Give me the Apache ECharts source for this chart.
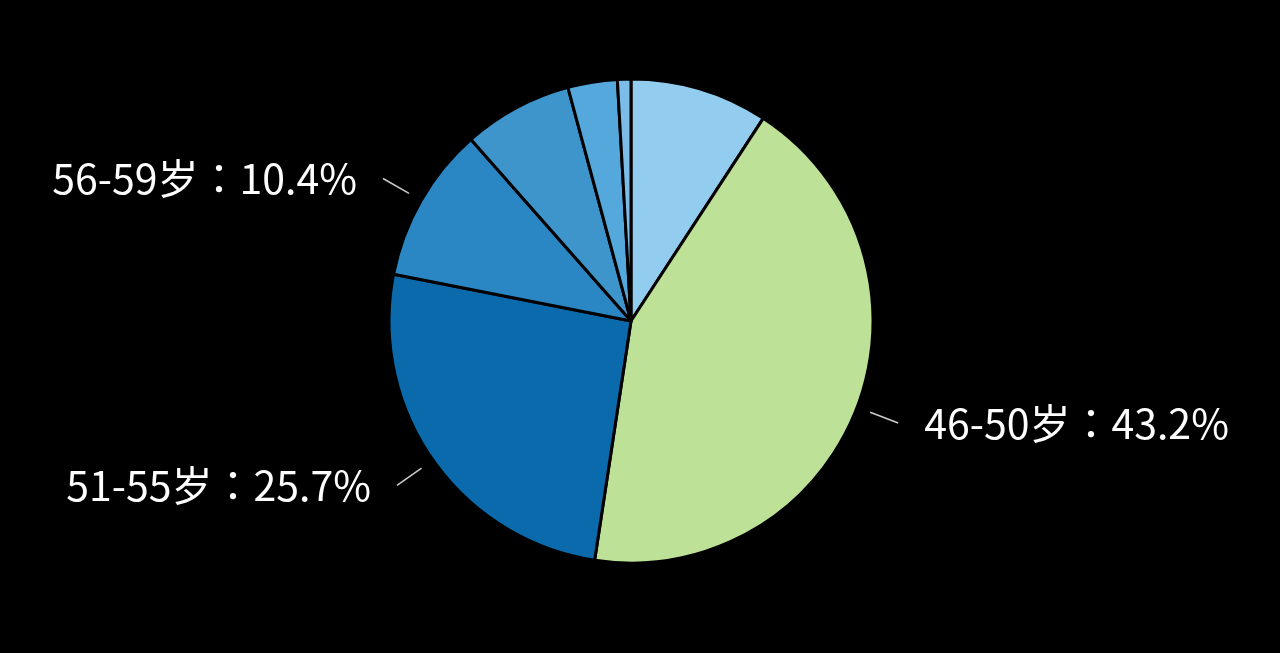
<!DOCTYPE html>
<html>
<head>
<meta charset="utf-8">
<script src="https://cdn.jsdelivr.net/npm/echarts@6/dist/echarts.min.js"></script>
<style>
html,body{margin:0;padding:0;background:#000;}
#c{width:1280px;height:653px;}
</style>
</head>
<body>
<div id="c"></div>
<script>
var categories = ['45岁及以下', '46-50岁', '51-55岁', '56-59岁', '60-62岁', '63-65岁', '65岁以上'];
var values = [9.2, 43.2, 25.7, 10.4, 7.3, 3.3, 0.9];
var colors = ['#92CDF0', '#BDE196', '#0A6AAC', '#2A87C4', '#3D95CC', '#55A8DC', '#7BBDE8'];
var labeled = ['46-50岁', '51-55岁', '56-59岁'];

var chart = echarts.init(document.getElementById('c'));

var sliceData = categories.map(function (n, i) {
  return { name: n, value: values[i], itemStyle: { color: colors[i] } };
});
var labelData = categories.map(function (n, i) {
  var show = labeled.indexOf(n) >= 0;
  return {
    name: n, value: values[i],
    label: { show: show },
    labelLine: { show: show }
  };
});

chart.setOption({
  backgroundColor: '#000',
  animation: false,
  series: [
    {
      type: 'pie',
      center: [631, 321],
      radius: [0, 242],
      startAngle: 90,
      clockwise: true,
      silent: true,
      label: { show: false },
      labelLine: { show: false },
      itemStyle: { borderColor: '#000', borderWidth: 3 },
      data: sliceData
    },
    {
      type: 'pie',
      center: [631, 321],
      radius: [254, 256],
      startAngle: 90,
      clockwise: true,
      silent: true,
      itemStyle: { color: 'rgba(0,0,0,0)' },
      label: {
        show: true,
        position: 'outside',
        color: '#fff',
        fontSize: 41,
        fontFamily: 'Noto Sans CJK JP',
        distanceToLabelLine: 26,
        formatter: function (p) { return p.name + '：' + p.value.toFixed(1) + '%'; }
      },
      labelLine: {
        show: true,
        length: 30,
        length2: 0,
        lineStyle: { color: '#cccccc', width: 1.5 }
      },
      data: labelData
    }
  ]
});
</script>
</body>
</html>
